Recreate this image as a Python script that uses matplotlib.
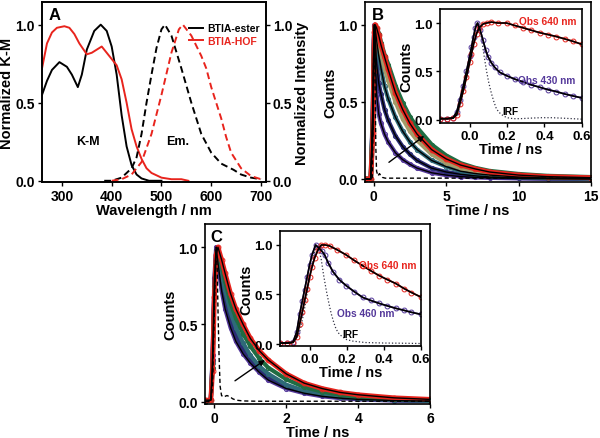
import matplotlib
matplotlib.use("Agg")
import matplotlib.pyplot as plt

plt.rcParams['font.family'] = ['Liberation Sans', 'DejaVu Sans']
plt.rcParams['font.weight'] = 'bold'
plt.rcParams['axes.labelweight'] = 'bold'
plt.rcParams['axes.linewidth'] = 1.2
plt.rcParams['xtick.major.width'] = 1.0
plt.rcParams['ytick.major.width'] = 1.0
plt.rcParams['xtick.major.size'] = 3
plt.rcParams['ytick.major.size'] = 3

# ---------------- Panel A data ----------------
wl_km_ester = [260, 270, 280, 295, 310, 320, 332, 340, 350, 365, 378, 390, 400, 410, 420, 430, 440, 450, 460, 475, 500]
km_ester = [0.55, 0.64, 0.71, 0.76, 0.73, 0.68, 0.60, 0.68, 0.84, 0.96, 1.0, 0.96, 0.86, 0.68, 0.42, 0.22, 0.10, 0.04, 0.015, 0.0, 0.0]
wl_km_hof = [260, 270, 280, 290, 305, 315, 325, 335, 350, 360, 370, 380, 390, 400, 410, 420, 430, 440, 450, 460, 470, 480, 500, 520, 540, 554]
km_hof = [0.72, 0.88, 0.95, 0.98, 0.99, 0.98, 0.94, 0.88, 0.81, 0.82, 0.84, 0.86, 0.82, 0.78, 0.74, 0.65, 0.50, 0.33, 0.22, 0.14, 0.08, 0.05, 0.02, 0.01, 0.01, 0.0]
wl_em_ester = [385, 400, 420, 440, 450, 460, 470, 480, 490, 500, 507, 520, 540, 560, 580, 600, 620, 645, 660, 680, 700]
em_ester = [0.0, 0.0, 0.02, 0.08, 0.15, 0.30, 0.50, 0.68, 0.85, 0.97, 1.0, 0.93, 0.72, 0.50, 0.30, 0.18, 0.11, 0.07, 0.04, 0.02, 0.01]
wl_em_hof = [400, 420, 440, 460, 480, 500, 520, 535, 543, 560, 580, 590, 600, 620, 630, 640, 660, 680, 700]
em_hof = [0.0, 0.01, 0.04, 0.12, 0.30, 0.55, 0.82, 0.97, 1.0, 0.93, 0.80, 0.72, 0.60, 0.40, 0.28, 0.18, 0.08, 0.03, 0.01]

# ---------------- Panel B main data ----------------
t_b = [-0.6, -0.2, -0.05, 0.0, 0.05, 0.1, 0.2, 0.35, 0.5, 0.75, 1.0, 1.5, 2.0, 2.5, 3.0, 4.0, 5.0, 6.0, 7.0, 8.0, 10.0, 12.0, 15.0]
b_430 = [0.0, 0.0, 0.5, 0.9, 1.0, 0.8, 0.55, 0.42, 0.36, 0.29, 0.24, 0.17, 0.125, 0.095, 0.07, 0.04, 0.025, 0.015, 0.01, 0.007, 0.003, 0.001, 0.0]
b_460 = [0.0, 0.0, 0.45, 0.85, 0.99, 0.92, 0.75, 0.62, 0.55, 0.45, 0.38, 0.28, 0.21, 0.16, 0.12, 0.07, 0.045, 0.03, 0.02, 0.013, 0.006, 0.003, 0.001]
b_500 = [0.0, 0.0, 0.4, 0.8, 0.97, 0.98, 0.9, 0.8, 0.72, 0.6, 0.52, 0.40, 0.31, 0.24, 0.19, 0.12, 0.08, 0.05, 0.035, 0.025, 0.012, 0.006, 0.003]
b_560 = [0.0, 0.0, 0.35, 0.75, 0.95, 1.0, 0.96, 0.89, 0.82, 0.72, 0.64, 0.50, 0.39, 0.31, 0.25, 0.16, 0.105, 0.07, 0.05, 0.035, 0.02, 0.01, 0.005]
b_530 = [0.0, 0.0, 0.35, 0.72, 0.93, 0.98, 0.98, 0.94, 0.88, 0.80, 0.74, 0.60, 0.49, 0.40, 0.33, 0.22, 0.15, 0.10, 0.07, 0.05, 0.03, 0.018, 0.01]
b_640 = [0.0, 0.0, 0.3, 0.7, 0.95, 1.0, 0.98, 0.93, 0.87, 0.79, 0.71, 0.56, 0.45, 0.36, 0.29, 0.19, 0.13, 0.09, 0.065, 0.045, 0.025, 0.015, 0.008]
t_irf_b = [-0.6, -0.2, -0.1, -0.05, 0.0, 0.05, 0.1, 0.15, 0.2, 0.3, 0.4, 0.5, 0.6, 0.8, 1.5, 3.0, 5.0, 8.0, 11.0, 15.0]
irf_b = [0.0, 0.0, 0.01, 0.3, 0.8, 1.0, 0.6, 0.2, 0.05, 0.02, 0.035, 0.02, 0.01, 0.005, 0.005, 0.005, 0.005, 0.005, 0.005, 0.005]

# ---------------- Panel B inset data ----------------
ti_b_640 = [-0.16, -0.12, -0.09, -0.07, -0.054, -0.035, -0.018, 0.0, 0.009, 0.02, 0.036, 0.05, 0.071, 0.09, 0.116, 0.15, 0.197, 0.24, 0.286, 0.33, 0.375, 0.42, 0.464, 0.51, 0.554, 0.6]
ib_640 = [0.01, 0.01, 0.015, 0.05, 0.16, 0.3, 0.44, 0.6, 0.68, 0.78, 0.89, 0.95, 0.99, 1.0, 1.01, 1.0, 1.0, 0.975, 0.95, 0.925, 0.9, 0.88, 0.86, 0.835, 0.81, 0.78]
ti_b_430 = [-0.16, -0.12, -0.09, -0.07, -0.054, -0.035, -0.018, 0.0, 0.009, 0.02, 0.03, 0.041, 0.055, 0.071, 0.085, 0.098, 0.115, 0.134, 0.16, 0.197, 0.24, 0.286, 0.33, 0.375, 0.42, 0.464, 0.51, 0.554, 0.6]
ib_430 = [0.01, 0.01, 0.02, 0.08, 0.2, 0.35, 0.5, 0.66, 0.75, 0.86, 0.95, 1.0, 0.93, 0.82, 0.72, 0.65, 0.59, 0.54, 0.49, 0.455, 0.42, 0.39, 0.36, 0.335, 0.31, 0.29, 0.265, 0.245, 0.225]
ti_b_irf = [-0.16, -0.1, -0.07, -0.05, -0.03, -0.01, 0.01, 0.03, 0.045, 0.062, 0.075, 0.089, 0.102, 0.116, 0.13, 0.143, 0.16, 0.179, 0.2, 0.232, 0.27, 0.32, 0.38, 0.44, 0.5, 0.55, 0.6]
ib_irf = [0.005, 0.01, 0.05, 0.15, 0.33, 0.55, 0.78, 0.95, 1.0, 0.85, 0.68, 0.51, 0.38, 0.27, 0.18, 0.11, 0.07, 0.04, 0.02, 0.01, 0.01, 0.015, 0.02, 0.02, 0.015, 0.01, 0.005]

# ---------------- Panel C main data ----------------
t_c = [-0.25, -0.1, -0.05, 0.0, 0.05, 0.1, 0.2, 0.3, 0.45, 0.6, 0.8, 1.0, 1.25, 1.5, 2.0, 2.5, 3.0, 3.5, 4.0, 5.0, 6.0]
c_460 = [0.0, 0.01, 0.3, 0.8, 1.0, 0.9, 0.72, 0.6, 0.48, 0.39, 0.31, 0.25, 0.19, 0.14, 0.085, 0.055, 0.035, 0.023, 0.015, 0.007, 0.004]
c_500 = [0.0, 0.01, 0.27, 0.75, 0.98, 0.95, 0.78, 0.66, 0.53, 0.43, 0.34, 0.27, 0.21, 0.16, 0.1, 0.065, 0.043, 0.029, 0.02, 0.01, 0.005]
c_530 = [0.0, 0.01, 0.25, 0.72, 0.96, 0.97, 0.83, 0.72, 0.58, 0.48, 0.38, 0.30, 0.23, 0.18, 0.11, 0.07, 0.048, 0.032, 0.022, 0.011, 0.006]
c_580 = [0.0, 0.01, 0.22, 0.7, 0.95, 0.99, 0.88, 0.78, 0.64, 0.54, 0.44, 0.36, 0.28, 0.22, 0.145, 0.095, 0.065, 0.045, 0.032, 0.017, 0.01]
c_640 = [0.01, 0.01, 0.2, 0.68, 0.95, 1.0, 0.92, 0.83, 0.70, 0.60, 0.50, 0.41, 0.33, 0.27, 0.18, 0.12, 0.085, 0.06, 0.045, 0.025, 0.015]
t_irf_c = [-0.25, -0.1, -0.05, 0.0, 0.03, 0.05, 0.08, 0.1, 0.13, 0.16, 0.2, 0.25, 0.3, 0.35, 0.4, 0.45, 0.5, 0.6, 0.8, 1.2, 2.0, 3.0, 4.0, 5.0, 6.0]
irf_c = [0.0, 0.0, 0.1, 0.6, 0.9, 1.0, 0.85, 0.6, 0.3, 0.1, 0.04, 0.03, 0.035, 0.04, 0.035, 0.03, 0.02, 0.01, 0.005, 0.003, 0.003, 0.003, 0.003, 0.003, 0.003]

# ---------------- Panel C inset data ----------------
ti_c_640 = [-0.16, -0.12, -0.09, -0.07, -0.054, -0.04, -0.027, -0.013, 0.0, 0.013, 0.027, 0.045, 0.063, 0.085, 0.108, 0.15, 0.197, 0.24, 0.287, 0.33, 0.376, 0.42, 0.466, 0.51, 0.55, 0.6]
ic_640 = [0.01, 0.01, 0.015, 0.07, 0.2, 0.32, 0.44, 0.56, 0.68, 0.78, 0.87, 0.95, 1.0, 1.0, 0.99, 0.95, 0.9, 0.845, 0.79, 0.74, 0.69, 0.65, 0.61, 0.56, 0.52, 0.475]
ti_c_460 = [-0.16, -0.12, -0.09, -0.07, -0.054, -0.04, -0.027, -0.013, 0.0, 0.013, 0.032, 0.05, 0.065, 0.081, 0.1, 0.126, 0.16, 0.197, 0.24, 0.287, 0.33, 0.376, 0.42, 0.466, 0.51, 0.55, 0.6]
ic_460 = [0.01, 0.01, 0.02, 0.12, 0.3, 0.43, 0.55, 0.68, 0.8, 0.9, 1.0, 0.97, 0.94, 0.9, 0.82, 0.73, 0.65, 0.59, 0.53, 0.47, 0.44, 0.41, 0.385, 0.36, 0.34, 0.32, 0.3]
ti_c_irf = [-0.16, -0.1, -0.07, -0.05, -0.03, -0.01, 0.01, 0.03, 0.045, 0.063, 0.075, 0.09, 0.103, 0.116, 0.13, 0.143, 0.16, 0.179, 0.2, 0.23, 0.3, 0.4, 0.5, 0.6]
ic_irf = [0.005, 0.01, 0.05, 0.15, 0.33, 0.55, 0.78, 0.95, 1.0, 0.85, 0.7, 0.54, 0.42, 0.31, 0.22, 0.15, 0.1, 0.07, 0.045, 0.03, 0.015, 0.01, 0.008, 0.005]

RED = '#e8241d'
PURPLE = '#54389a'
NAVY = '#2b2c74'
TEAL = '#2e6a78'
GREEN = '#1f6c42'
OLIVE = '#a39b68'

TICK_FS = 10
LABEL_FS = 10.5
ANN_FS = 7.3

fig = plt.figure(figsize=(6.0, 4.39), dpi=100)

def style(ax, fs=TICK_FS):
    ax.tick_params(direction='out', labelsize=fs, pad=2)
    for lab in ax.get_xticklabels() + ax.get_yticklabels():
        lab.set_fontweight('bold')

# ---------------- Panel A ----------------
axA = fig.add_axes([0.07, 0.5831, 0.3733, 0.41])
axA.plot(wl_km_ester, km_ester, color='black', lw=1.4, label='BTIA-ester')
axA.plot(wl_km_hof, km_hof, color=RED, lw=1.4, label='BTIA-HOF')
axA.set_xlim(260, 710)
axA.set_ylim(-0.008, 1.145)
axA.set_xticks([300, 400, 500, 600, 700])
axA.set_yticks([0.0, 0.5, 1.0])
axA.set_xlabel('Wavelength / nm', fontsize=LABEL_FS, labelpad=0)
axA.set_ylabel('Normalized K-M', fontsize=LABEL_FS, labelpad=1)
axA2 = axA.twinx()
axA2.plot(wl_em_ester, em_ester, color='black', lw=1.4, ls=(0, (3.5, 2)))
axA2.plot(wl_em_hof, em_hof, color=RED, lw=1.4, ls=(0, (3.5, 2)))
axA2.set_ylim(-0.008, 1.145)
axA2.set_yticks([0.0, 0.5, 1.0])
axA2.set_ylabel('Normalized Intensity', fontsize=LABEL_FS, labelpad=2)
style(axA); style(axA2)
leg = axA.legend(loc='upper right', bbox_to_anchor=(0.995, 0.91), frameon=False,
                 fontsize=7.5, handlelength=1.3, handletextpad=0.4, labelspacing=0.25,
                 borderaxespad=0.1)
for txt, c in zip(leg.get_texts(), ['black', RED]):
    txt.set_color(c)
axA.text(0.03, 0.97, 'A', transform=axA.transAxes, fontsize=12, va='top', ha='left')
axA.text(352, 0.254, 'K-M', fontsize=9, ha='center', va='center')
axA.text(532, 0.254, 'Em.', fontsize=9, ha='center', va='center')

def plot_trace(ax, t, y, color, lw=3.0, ms=3.0, z=2):
    ax.plot(t, y, color=color, lw=lw, marker='o', ms=ms, mfc='none', mew=0.7, zorder=z)

# ---------------- Panel B ----------------
axB = fig.add_axes([0.6083, 0.5831, 0.3767, 0.41])
plot_trace(axB, t_b, b_430, PURPLE)
plot_trace(axB, t_b, b_460, NAVY)
plot_trace(axB, t_b, b_500, TEAL)
plot_trace(axB, t_b, b_560, OLIVE)
plot_trace(axB, t_b, b_530, GREEN, lw=3.5)
plot_trace(axB, t_b, b_640, RED, lw=3.5, ms=3.5)
for y in (b_430, b_460, b_500, b_640):
    axB.plot(t_b, y, color='black', lw=1.0, zorder=4)
axB.plot(t_irf_b, irf_b, color='black', lw=1.0, ls=(0, (3, 2)), zorder=5)
axB.set_xlim(-0.6, 15)
axB.set_ylim(-0.02, 1.147)
axB.set_xticks([0, 5, 10, 15])
axB.set_yticks([0.0, 0.5, 1.0])
axB.set_xlabel('Time / ns', fontsize=LABEL_FS, labelpad=0)
axB.set_ylabel('Counts', fontsize=LABEL_FS, labelpad=1)
style(axB)
axB.text(0.03, 0.97, 'B', transform=axB.transAxes, fontsize=12, va='top', ha='left')
axB.annotate('', xy=(3.64, 0.29), xytext=(0.9, 0.097),
             arrowprops=dict(arrowstyle='-|>', color='black', lw=1.0, mutation_scale=8), zorder=6)

# inset B
axBi = fig.add_axes([0.7333, 0.7175, 0.2362, 0.2597])
axBi.plot(ti_b_irf, ib_irf, color='#333344', lw=0.9, ls=':', zorder=1)
plot_trace(axBi, ti_b_430, ib_430, PURPLE, lw=1.2, ms=3.5)
plot_trace(axBi, ti_b_640, ib_640, RED, lw=1.2, ms=3.5)
axBi.plot(ti_b_430, ib_430, color='black', lw=1.2, zorder=4)
axBi.plot(ti_b_640, ib_640, color='black', lw=1.2, zorder=4)
axBi.set_xlim(-0.16, 0.6)
axBi.set_ylim(-0.035, 1.145)
axBi.set_xticks([0.0, 0.2, 0.4, 0.6])
axBi.set_yticks([0.0, 0.5, 1.0])
axBi.set_xlabel('Time / ns', fontsize=LABEL_FS, labelpad=0)
axBi.set_ylabel('Counts', fontsize=LABEL_FS, labelpad=1)
style(axBi, 9.5)
axBi.text(0.572, 1.02, 'Obs 640 nm', color=RED, fontsize=ANN_FS, va='center', ha='right', zorder=7)
axBi.text(0.568, 0.41, 'Obs 430 nm', color=PURPLE, fontsize=ANN_FS, va='center', ha='right', zorder=7)
axBi.text(0.177, 0.09, 'IRF', color='black', fontsize=ANN_FS, va='center', ha='left', zorder=7)

# ---------------- Panel C ----------------
axC = fig.add_axes([0.3417, 0.0774, 0.375, 0.41])
plot_trace(axC, t_c, c_460, PURPLE)
plot_trace(axC, t_c, c_500, NAVY)
plot_trace(axC, t_c, c_530, TEAL)
plot_trace(axC, t_c, c_580, GREEN)
plot_trace(axC, t_c, c_640, RED, lw=3.5, ms=3.5)
for y in (c_460, c_640):
    axC.plot(t_c, y, color='black', lw=1.0, zorder=4)
axC.plot(t_irf_c, irf_c, color='black', lw=1.0, ls=(0, (3, 2)), zorder=5)
axC.set_xlim(-0.26, 6)
axC.set_ylim(-0.015, 1.15)
axC.set_xticks([0, 2, 4, 6])
axC.set_yticks([0.0, 0.5, 1.0])
axC.set_xlabel('Time / ns', fontsize=LABEL_FS, labelpad=0)
axC.set_ylabel('Counts', fontsize=LABEL_FS, labelpad=1)
style(axC)
axC.text(0.022, 0.97, 'C', transform=axC.transAxes, fontsize=12, va='top', ha='left')
axC.annotate('', xy=(1.47, 0.28), xytext=(0.51, 0.125),
             arrowprops=dict(arrowstyle='-|>', color='black', lw=1.0, mutation_scale=8), zorder=6)

# inset C
axCi = fig.add_axes([0.4667, 0.2089, 0.2345, 0.2633])
axCi.plot(ti_c_irf, ic_irf, color='#333344', lw=0.9, ls=':', zorder=1)
plot_trace(axCi, ti_c_460, ic_460, PURPLE, lw=1.2, ms=3.5)
plot_trace(axCi, ti_c_640, ic_640, RED, lw=1.2, ms=3.5)
axCi.plot(ti_c_460, ic_460, color='black', lw=1.2, zorder=4)
axCi.plot(ti_c_640, ic_640, color='black', lw=1.2, zorder=4)
axCi.set_xlim(-0.16, 0.6)
axCi.set_ylim(-0.023, 1.144)
axCi.set_xticks([0.0, 0.2, 0.4, 0.6])
axCi.set_yticks([0.0, 0.5, 1.0])
axCi.set_xlabel('Time / ns', fontsize=LABEL_FS, labelpad=0)
axCi.set_ylabel('Counts', fontsize=LABEL_FS, labelpad=1)
style(axCi, 9.5)
axCi.text(0.575, 0.80, 'Obs 640 nm', color=RED, fontsize=ANN_FS, va='center', ha='right', zorder=7)
axCi.text(0.457, 0.31, 'Obs 460 nm', color=PURPLE, fontsize=ANN_FS, va='center', ha='right', zorder=7)
axCi.text(0.177, 0.10, 'IRF', color='black', fontsize=ANN_FS, va='center', ha='left', zorder=7)

fig.savefig('out.png', dpi=100)
